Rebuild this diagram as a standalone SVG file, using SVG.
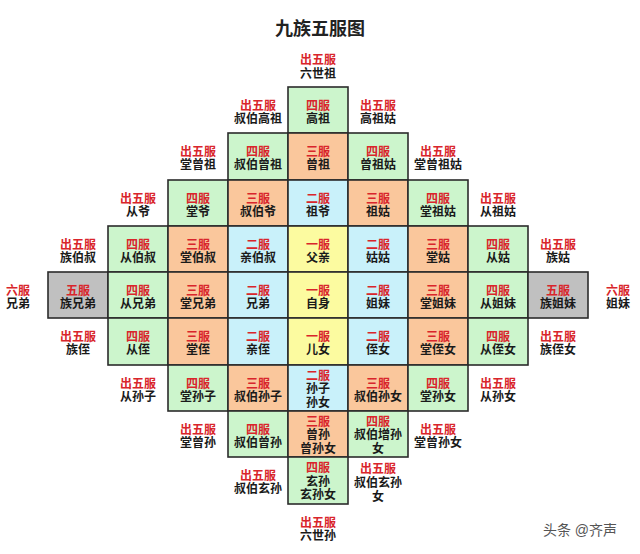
<svg xmlns="http://www.w3.org/2000/svg" width="640" height="554" viewBox="0 0 640 554">
<style>
text{font-family:"Liberation Sans","Noto Sans CJK SC",sans-serif;font-weight:bold;font-size:12px;text-anchor:middle}
.r{fill:#d9252b}.k{fill:#1a1a1a}
.c{stroke:#2b2b2b;stroke-width:1.6}
.g{fill:#ccf5cc}.o{fill:#fac79c}.b{fill:#c9f1fa}.y{fill:#fcfba0}.s{fill:#c0c0c0}
.t{font-size:18px;fill:#222}
.w{font-size:14px;font-weight:normal;fill:#555}
</style>
<rect width="640" height="554" fill="#fff"/>
<text class="t" x="320" y="35">九族五服图</text>
<g id="out">
<g id="o-liushizu"><text x="318" y="63.5"><tspan class="r">出五服</tspan><tspan class="k" x="318" dy="14">六世祖</tspan></text></g>
<g id="o-shubogaozu"><text x="258" y="109.5"><tspan class="r">出五服</tspan><tspan class="k" x="258" dy="13">叔伯高祖</tspan></text></g>
<g id="o-gaozugu"><text x="378" y="109.5"><tspan class="r">出五服</tspan><tspan class="k" x="378" dy="13">高祖姑</tspan></text></g>
<g id="o-tangcengzu"><text x="198" y="155.5"><tspan class="r">出五服</tspan><tspan class="k" x="198" dy="13">堂曾祖</tspan></text></g>
<g id="o-tangcengzugu"><text x="438" y="155.5"><tspan class="r">出五服</tspan><tspan class="k" x="438" dy="13">堂曾祖姑</tspan></text></g>
<g id="o-congye"><text x="138" y="202.5"><tspan class="r">出五服</tspan><tspan class="k" x="138" dy="13">从爷</tspan></text></g>
<g id="o-congzugu"><text x="498" y="202.5"><tspan class="r">出五服</tspan><tspan class="k" x="498" dy="13">从祖姑</tspan></text></g>
<g id="o-zuboshu"><text x="78" y="248.5"><tspan class="r">出五服</tspan><tspan class="k" x="78" dy="13">族伯叔</tspan></text></g>
<g id="o-zugu"><text x="558" y="248.5"><tspan class="r">出五服</tspan><tspan class="k" x="558" dy="13">族姑</tspan></text></g>
<g id="o-xiongdi"><text x="18" y="294.5"><tspan class="r">六服</tspan><tspan class="k" x="18" dy="13">兄弟</tspan></text></g>
<g id="o-jiemei"><text x="618" y="294.5"><tspan class="r">六服</tspan><tspan class="k" x="618" dy="13">姐妹</tspan></text></g>
<g id="o-zuzhi"><text x="78" y="340.5"><tspan class="r">出五服</tspan><tspan class="k" x="78" dy="13">族侄</tspan></text></g>
<g id="o-zuzhinv"><text x="558" y="340.5"><tspan class="r">出五服</tspan><tspan class="k" x="558" dy="13">族侄女</tspan></text></g>
<g id="o-congsunzi"><text x="138" y="387.5"><tspan class="r">出五服</tspan><tspan class="k" x="138" dy="13">从孙子</tspan></text></g>
<g id="o-congsunnv"><text x="498" y="387.5"><tspan class="r">出五服</tspan><tspan class="k" x="498" dy="13">从孙女</tspan></text></g>
<g id="o-tangcengsun"><text x="198" y="433.5"><tspan class="r">出五服</tspan><tspan class="k" x="198" dy="13">堂曾孙</tspan></text></g>
<g id="o-tangcengsunnv"><text x="438" y="433.5"><tspan class="r">出五服</tspan><tspan class="k" x="438" dy="13">堂曾孙女</tspan></text></g>
<g id="o-shuboxuansun"><text x="258" y="479.5"><tspan class="r">出五服</tspan><tspan class="k" x="258" dy="13">叔伯玄孙</tspan></text></g>
<g id="o-shuboxuansunnv"><text x="378" y="472.5"><tspan class="r">出五服</tspan><tspan class="k" x="378" dy="14">叔伯玄孙</tspan><tspan class="k" x="378" dy="14">女</tspan></text></g>
<g id="o-liushisun"><text x="318" y="526.5"><tspan class="r">出五服</tspan><tspan class="k" x="318" dy="13">六世孙</tspan></text></g>
</g>
<g id="cells">
<g id="n-gaozu"><rect class="c g" x="288" y="87" width="60" height="46"/><text x="318" y="109.5"><tspan class="r">四服</tspan><tspan class="k" x="318" dy="13">高祖</tspan></text></g>

<g id="n-shubocengzu"><rect class="c g" x="228" y="133" width="60" height="47"/><text x="258" y="155.5"><tspan class="r">四服</tspan><tspan class="k" x="258" dy="13">叔伯曾祖</tspan></text></g>
<g id="n-cengzu"><rect class="c o" x="288" y="133" width="60" height="47"/><text x="318" y="155.5"><tspan class="r">三服</tspan><tspan class="k" x="318" dy="13">曾祖</tspan></text></g>
<g id="n-cengzugu"><rect class="c g" x="348" y="133" width="60" height="47"/><text x="378" y="155.5"><tspan class="r">四服</tspan><tspan class="k" x="378" dy="13">曾祖姑</tspan></text></g>

<g id="n-tangye"><rect class="c g" x="168" y="180" width="60" height="46"/><text x="198" y="202.5"><tspan class="r">四服</tspan><tspan class="k" x="198" dy="13">堂爷</tspan></text></g>
<g id="n-shuboye"><rect class="c o" x="228" y="180" width="60" height="46"/><text x="258" y="202.5"><tspan class="r">三服</tspan><tspan class="k" x="258" dy="13">叔伯爷</tspan></text></g>
<g id="n-zuye"><rect class="c b" x="288" y="180" width="60" height="46"/><text x="318" y="202.5"><tspan class="r">二服</tspan><tspan class="k" x="318" dy="13">祖爷</tspan></text></g>
<g id="n-zugu"><rect class="c o" x="348" y="180" width="60" height="46"/><text x="378" y="202.5"><tspan class="r">三服</tspan><tspan class="k" x="378" dy="13">祖姑</tspan></text></g>
<g id="n-tangzugu"><rect class="c g" x="408" y="180" width="60" height="46"/><text x="438" y="202.5"><tspan class="r">四服</tspan><tspan class="k" x="438" dy="13">堂祖姑</tspan></text></g>

<g id="n-congboshu"><rect class="c g" x="108" y="226" width="60" height="46"/><text x="138" y="248.5"><tspan class="r">四服</tspan><tspan class="k" x="138" dy="13">从伯叔</tspan></text></g>
<g id="n-tangboshu"><rect class="c o" x="168" y="226" width="60" height="46"/><text x="198" y="248.5"><tspan class="r">三服</tspan><tspan class="k" x="198" dy="13">堂伯叔</tspan></text></g>
<g id="n-qinboshu"><rect class="c b" x="228" y="226" width="60" height="46"/><text x="258" y="248.5"><tspan class="r">二服</tspan><tspan class="k" x="258" dy="13">亲伯叔</tspan></text></g>
<g id="n-fuqin"><rect class="c y" x="288" y="226" width="60" height="46"/><text x="318" y="248.5"><tspan class="r">一服</tspan><tspan class="k" x="318" dy="13">父亲</tspan></text></g>
<g id="n-gugu"><rect class="c b" x="348" y="226" width="60" height="46"/><text x="378" y="248.5"><tspan class="r">二服</tspan><tspan class="k" x="378" dy="13">姑姑</tspan></text></g>
<g id="n-tanggu"><rect class="c o" x="408" y="226" width="60" height="46"/><text x="438" y="248.5"><tspan class="r">三服</tspan><tspan class="k" x="438" dy="13">堂姑</tspan></text></g>
<g id="n-conggu"><rect class="c g" x="468" y="226" width="60" height="46"/><text x="498" y="248.5"><tspan class="r">四服</tspan><tspan class="k" x="498" dy="13">从姑</tspan></text></g>

<g id="n-zuxiongdi"><rect class="c s" x="48" y="272" width="60" height="46"/><text x="78" y="294.5"><tspan class="r">五服</tspan><tspan class="k" x="78" dy="13">族兄弟</tspan></text></g>
<g id="n-congxiongdi"><rect class="c g" x="108" y="272" width="60" height="46"/><text x="138" y="294.5"><tspan class="r">四服</tspan><tspan class="k" x="138" dy="13">从兄弟</tspan></text></g>
<g id="n-tangxiongdi"><rect class="c o" x="168" y="272" width="60" height="46"/><text x="198" y="294.5"><tspan class="r">三服</tspan><tspan class="k" x="198" dy="13">堂兄弟</tspan></text></g>
<g id="n-xiongdi"><rect class="c b" x="228" y="272" width="60" height="46"/><text x="258" y="294.5"><tspan class="r">二服</tspan><tspan class="k" x="258" dy="13">兄弟</tspan></text></g>
<g id="n-zishen"><rect class="c y" x="288" y="272" width="60" height="46"/><text x="318" y="294.5"><tspan class="r">一服</tspan><tspan class="k" x="318" dy="13">自身</tspan></text></g>
<g id="n-jiemei"><rect class="c b" x="348" y="272" width="60" height="46"/><text x="378" y="294.5"><tspan class="r">二服</tspan><tspan class="k" x="378" dy="13">姐妹</tspan></text></g>
<g id="n-tangjiemei"><rect class="c o" x="408" y="272" width="60" height="46"/><text x="438" y="294.5"><tspan class="r">三服</tspan><tspan class="k" x="438" dy="13">堂姐妹</tspan></text></g>
<g id="n-congjiemei"><rect class="c g" x="468" y="272" width="60" height="46"/><text x="498" y="294.5"><tspan class="r">四服</tspan><tspan class="k" x="498" dy="13">从姐妹</tspan></text></g>
<g id="n-zujiemei"><rect class="c s" x="528" y="272" width="60" height="46"/><text x="558" y="294.5"><tspan class="r">五服</tspan><tspan class="k" x="558" dy="13">族姐妹</tspan></text></g>

<g id="n-congzhi"><rect class="c g" x="108" y="318" width="60" height="47"/><text x="138" y="340.5"><tspan class="r">四服</tspan><tspan class="k" x="138" dy="13">从侄</tspan></text></g>
<g id="n-tangzhi"><rect class="c o" x="168" y="318" width="60" height="47"/><text x="198" y="340.5"><tspan class="r">三服</tspan><tspan class="k" x="198" dy="13">堂侄</tspan></text></g>
<g id="n-qinzhi"><rect class="c b" x="228" y="318" width="60" height="47"/><text x="258" y="340.5"><tspan class="r">二服</tspan><tspan class="k" x="258" dy="13">亲侄</tspan></text></g>
<g id="n-ernv"><rect class="c y" x="288" y="318" width="60" height="47"/><text x="318" y="340.5"><tspan class="r">一服</tspan><tspan class="k" x="318" dy="13">儿女</tspan></text></g>
<g id="n-zhinv"><rect class="c b" x="348" y="318" width="60" height="47"/><text x="378" y="340.5"><tspan class="r">二服</tspan><tspan class="k" x="378" dy="13">侄女</tspan></text></g>
<g id="n-tangzhinv"><rect class="c o" x="408" y="318" width="60" height="47"/><text x="438" y="340.5"><tspan class="r">三服</tspan><tspan class="k" x="438" dy="13">堂侄女</tspan></text></g>
<g id="n-congzhinv"><rect class="c g" x="468" y="318" width="60" height="47"/><text x="498" y="340.5"><tspan class="r">四服</tspan><tspan class="k" x="498" dy="13">从侄女</tspan></text></g>

<g id="n-tangsunzi"><rect class="c g" x="168" y="365" width="60" height="46"/><text x="198" y="387.5"><tspan class="r">四服</tspan><tspan class="k" x="198" dy="13">堂孙子</tspan></text></g>
<g id="n-shubosunzi"><rect class="c o" x="228" y="365" width="60" height="46"/><text x="258" y="387.5"><tspan class="r">三服</tspan><tspan class="k" x="258" dy="13">叔伯孙子</tspan></text></g>
<g id="n-sunzi"><rect class="c b" x="288" y="365" width="60" height="46"/><text x="318" y="379.5"><tspan class="r">二服</tspan><tspan class="k" x="318" dy="13.5">孙子</tspan><tspan class="k" x="318" dy="13.5">孙女</tspan></text></g>
<g id="n-shubosunnv"><rect class="c o" x="348" y="365" width="60" height="46"/><text x="378" y="387.5"><tspan class="r">三服</tspan><tspan class="k" x="378" dy="13">叔伯孙女</tspan></text></g>
<g id="n-tangsunnv"><rect class="c g" x="408" y="365" width="60" height="46"/><text x="438" y="387.5"><tspan class="r">四服</tspan><tspan class="k" x="438" dy="13">堂孙女</tspan></text></g>

<g id="n-shubocengsun"><rect class="c g" x="228" y="411" width="60" height="46"/><text x="258" y="433.5"><tspan class="r">四服</tspan><tspan class="k" x="258" dy="13">叔伯曾孙</tspan></text></g>
<g id="n-cengsun"><rect class="c o" x="288" y="411" width="60" height="46"/><text x="318" y="425.5"><tspan class="r">三服</tspan><tspan class="k" x="318" dy="13.5">曾孙</tspan><tspan class="k" x="318" dy="13.5">曾孙女</tspan></text></g>
<g id="n-shubozengsunnv"><rect class="c g" x="348" y="411" width="60" height="46"/><text x="378" y="425.5"><tspan class="r">四服</tspan><tspan class="k" x="378" dy="13.5">叔伯增孙</tspan><tspan class="k" x="378" dy="13.5">女</tspan></text></g>

<g id="n-xuansun"><rect class="c g" x="288" y="457" width="60" height="47"/><text x="318" y="472"><tspan class="r">四服</tspan><tspan class="k" x="318" dy="13.5">玄孙</tspan><tspan class="k" x="318" dy="13.5">玄孙女</tspan></text></g>
</g>
<g id="connectors"></g>
<text class="w" x="580" y="535">头条 @齐声</text>
</svg>
